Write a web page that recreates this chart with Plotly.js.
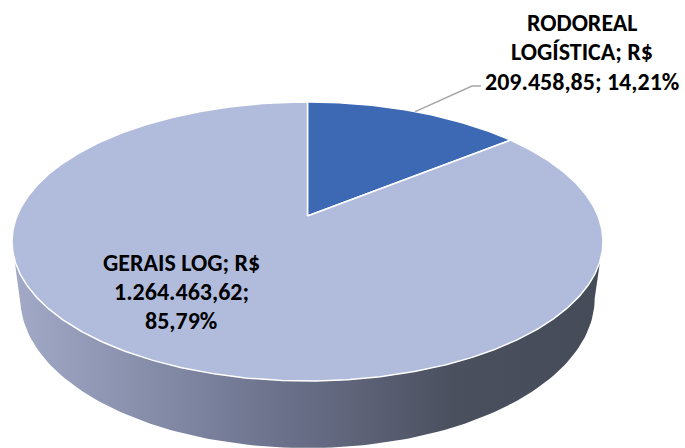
<!DOCTYPE html>
<html>
<head>
<meta charset="utf-8">
<script src="https://cdn.plot.ly/plotly-3.0.1.min.js"></script>
<style>html,body{margin:0;padding:0;background:#fff;}#chart{width:685px;height:448px;}</style>
</head>
<body>
<div id="chart"></div>
<script>
// ---- data ----
const labels = ["RODOREAL LOGÍSTICA", "GERAIS LOG"];
const values = [209458.85, 1264463.62];
const currency = "R$";
// label line layout (how each label is broken into lines)
const labelLines = [
  ["RODOREAL", "LOGÍSTICA; {c}", "{v}; {p}"],
  ["GERAIS LOG; {c}", "{v};", "{p}"]
];

// ---- style ----
const topColors = ["#3d68b4", "#b1bcdd"];
const sideScales = [
  [[0, "#2c4c85"], [1, "#1d3159"]],
  [[0, "#a2aac8"], [0.45, "#6c728c"], [0.75, "#4b505f"], [1, "#464b58"]]
];
const W = 685, H = 448;
// perspective projection of the pie disc (layout parameters)
const P = {cx: 307.5, e: 216, c: 0.1828, b: -95.35, a: 290.5, drop: 54.8, bottomScale: 0.972};

function proj(thetaDeg, bottom) {
  const t = thetaDeg * Math.PI / 180;
  const u = Math.sin(t), v = Math.cos(t);
  const d = 1 + P.c * v;
  const xs = bottom ? P.bottomScale : 1;
  return [P.cx + P.a * xs * u / d, (P.b * v + P.e + (bottom ? P.drop : 0)) / d];
}
function fmt(n, dec) {
  const s = n.toFixed(dec).split(".");
  const int = s[0].replace(/\B(?=(\d{3})+(?!\d))/g, ".");
  return dec ? int + "," + s[1] : int;
}

const total = values.reduce((s, x) => s + x, 0);
const angles = [];
let acc = 0;
values.forEach(v => { const a0 = acc / total * 360; acc += v; angles.push([a0, acc / total * 360]); });

const traces = [];
// visible front of the side wall
const frontStart = Math.acos(-P.c) * 180 / Math.PI;      // right silhouette
const frontEnd = 360 - frontStart;                          // left silhouette
angles.forEach((ang, i) => {
  const s = Math.max(ang[0], frontStart), e = Math.min(ang[1], frontEnd);
  if (e <= s) return;
  const xs = [], ys = [];
  const n = 120;
  for (let k = 0; k <= n; k++) { const p = proj(s + (e - s) * k / n, false); xs.push(p[0]); ys.push(p[1]); }
  for (let k = n; k >= 0; k--) { const p = proj(s + (e - s) * k / n, true); xs.push(p[0]); ys.push(p[1]); }
  traces.push({
    type: "scatter", mode: "lines", x: xs, y: ys, fill: "toself",
    fillgradient: {type: "horizontal", colorscale: sideScales[i]},
    line: {width: 0, color: "rgba(0,0,0,0)"}, hoverinfo: "skip"
  });
});
// top faces
angles.forEach((ang, i) => {
  const xs = [P.cx], ys = [P.e];
  const n = Math.max(20, Math.round((ang[1] - ang[0]) * 2));
  for (let k = 0; k <= n; k++) { const p = proj(ang[0] + (ang[1] - ang[0]) * k / n, false); xs.push(p[0]); ys.push(p[1]); }
  xs.push(P.cx); ys.push(P.e);
  traces.push({
    type: "scatter", mode: "lines", x: xs, y: ys, fill: "toself",
    fillcolor: topColors[i], line: {color: "#ffffff", width: 1.5}, hoverinfo: "skip"
  });
});
// leader line for the small slice
const mid0 = (angles[0][0] + angles[0][1]) / 2;
const lp = proj(mid0, false);
traces.push({
  type: "scatter", mode: "lines", x: [lp[0], 472, 481], y: [lp[1], 86, 86],
  line: {color: "#a6a6a6", width: 1.5}, hoverinfo: "skip"
});

// labels
const labelPos = [{x: 582, y0: 22, dy: 29.5}, {x: 181, y0: 262, dy: 29}];
const annotations = [];
labelLines.forEach((lines, i) => {
  const pct = fmt(values[i] / total * 100, 2) + "%";
  lines.forEach((ln, j) => {
    const txt = ln.replace("{c}", currency).replace("{v}", fmt(values[i], 2)).replace("{p}", pct);
    annotations.push({
      x: labelPos[i].x, y: labelPos[i].y0 + j * labelPos[i].dy, xref: "x", yref: "y",
      text: txt, showarrow: false, xanchor: "center", yanchor: "middle",
      font: {family: "Carlito, 'Open Sans', sans-serif", size: 24, color: "#000000", weight: 700}
    });
  });
});

const layout = {
  width: W, height: H, margin: {l: 0, r: 0, t: 0, b: 0},
  paper_bgcolor: "#ffffff", plot_bgcolor: "#ffffff", showlegend: false,
  xaxis: {range: [0, W], visible: false, fixedrange: true},
  yaxis: {range: [H, 0], visible: false, fixedrange: true},
  annotations: annotations
};
Plotly.newPlot("chart", traces, layout, {staticPlot: true, displayModeBar: false});
</script>
</body>
</html>
